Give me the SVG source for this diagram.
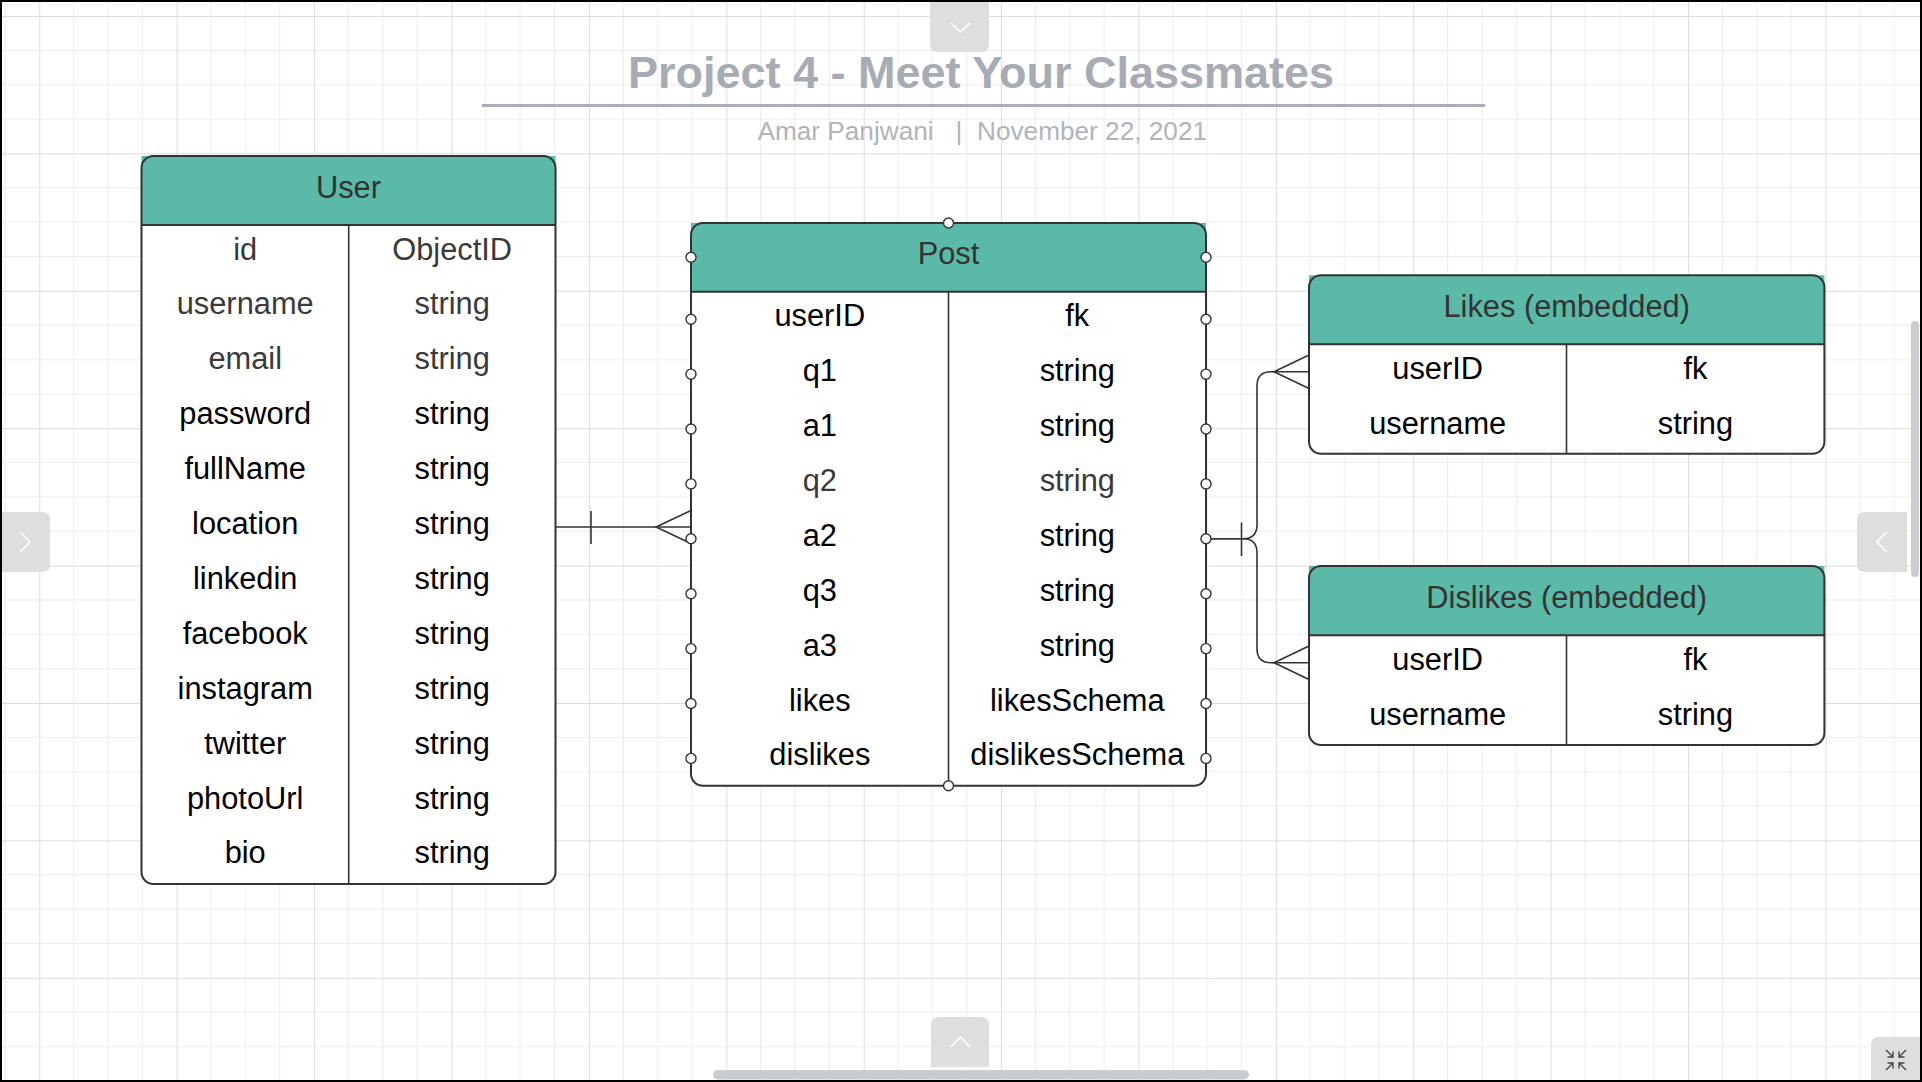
<svg xmlns="http://www.w3.org/2000/svg" width="1922" height="1082" viewBox="0 0 1922 1082">
<defs>
<pattern id="grid" patternUnits="userSpaceOnUse" x="39.3" y="16" width="137.4" height="137.4">
<path d="M34.35,0V137.4M68.7,0V137.4M103.05,0V137.4M0,34.35H137.4M0,68.7H137.4M0,103.05H137.4" stroke="#ececec" stroke-width="1" fill="none"/>
<path d="M0.5,0V137.4M0,0.5H137.4" stroke="#dcdcdc" stroke-width="1" fill="none"/>
</pattern>
</defs>
<style>
.bg{fill:#fff}
.body{fill:#fff}
.hdr{fill:#5bb9a7}
.frame{fill:none;stroke:#333;stroke-width:2}
.sep{stroke:#333;stroke-width:2;fill:none}
.div{stroke:#333;stroke-width:1.6;fill:none}
text{font-family:"Liberation Sans",Arial,sans-serif}
.ht{font-size:30.8px;fill:#333;text-anchor:middle}
.t{font-size:30.8px;fill:#000;text-anchor:middle}
.g{fill:#3a3a3a}
.handle{fill:#fff;stroke:#333;stroke-width:1.4}
.conn path{fill:none;stroke:#333;stroke-width:1.6}
.ui{fill:#dedede}
.chev{fill:none;stroke:#fff;stroke-width:1.6}
.sb{fill:#c9ccd1}
</style>
<rect class="bg" x="0" y="0" width="1922" height="1082"/>
<rect x="0" y="0" width="1922" height="1082" fill="url(#grid)"/>

<g id="title">
<text x="981" y="88" font-size="45" font-weight="bold" fill="#a7abb4" text-anchor="middle">Project 4 - Meet Your Classmates</text>
<rect x="482" y="104" width="1003" height="3" fill="#a9aeb6"/>
<text y="139.5" font-size="26.2" fill="#b1b4ba"><tspan x="757.5">Amar Panjwani</tspan><tspan x="955.5">|</tspan><tspan x="977">November 22, 2021</tspan></text>
</g>

<g id="user">
<rect class="body" x="141.5" y="156" width="414" height="728" rx="12"/>
<rect class="hdr" x="141.5" y="156" width="414" height="69"/>
<rect class="frame" x="141.5" y="156" width="414" height="728" rx="12"/>
<path class="sep" d="M141.5,225H555.5"/>
<path class="div" d="M348.7,225V884"/>
<text class="ht" x="348.5" y="197.5">User</text>
<text class="t g" x="245.2" y="259.5">id</text><text class="t g" x="452.2" y="259.5">ObjectID</text>
<text class="t g" x="245.2" y="314.4">username</text><text class="t g" x="452.2" y="314.4">string</text>
<text class="t g" x="245.2" y="369.3">email</text><text class="t g" x="452.2" y="369.3">string</text>
<text class="t" x="245.2" y="424.2">password</text><text class="t" x="452.2" y="424.2">string</text>
<text class="t" x="245.2" y="479.1">fullName</text><text class="t" x="452.2" y="479.1">string</text>
<text class="t" x="245.2" y="534">location</text><text class="t" x="452.2" y="534">string</text>
<text class="t" x="245.2" y="588.9">linkedin</text><text class="t" x="452.2" y="588.9">string</text>
<text class="t" x="245.2" y="643.8">facebook</text><text class="t" x="452.2" y="643.8">string</text>
<text class="t" x="245.2" y="698.7">instagram</text><text class="t" x="452.2" y="698.7">string</text>
<text class="t" x="245.2" y="753.6">twitter</text><text class="t" x="452.2" y="753.6">string</text>
<text class="t" x="245.2" y="808.5">photoUrl</text><text class="t" x="452.2" y="808.5">string</text>
<text class="t" x="245.2" y="863.4">bio</text><text class="t" x="452.2" y="863.4">string</text>
</g>

<g id="post">
<rect class="body" x="691" y="223" width="515" height="562.8" rx="12"/>
<rect class="hdr" x="691" y="223" width="515" height="68.7"/>
<rect class="frame" x="691" y="223" width="515" height="562.8" rx="12"/>
<path class="sep" d="M691,291.7H1206"/>
<path class="div" d="M948.5,291.7V785.8"/>
<text class="ht" x="948.5" y="264.4">Post</text>
<text class="t" x="819.8" y="326.2">userID</text><text class="t" x="1077.3" y="326.2">fk</text>
<text class="t" x="819.8" y="381.1">q1</text><text class="t" x="1077.3" y="381.1">string</text>
<text class="t" x="819.8" y="436">a1</text><text class="t" x="1077.3" y="436">string</text>
<text class="t g" x="819.8" y="490.9">q2</text><text class="t g" x="1077.3" y="490.9">string</text>
<text class="t" x="819.8" y="545.8">a2</text><text class="t" x="1077.3" y="545.8">string</text>
<text class="t" x="819.8" y="600.7">q3</text><text class="t" x="1077.3" y="600.7">string</text>
<text class="t" x="819.8" y="655.6">a3</text><text class="t" x="1077.3" y="655.6">string</text>
<text class="t" x="819.8" y="710.5">likes</text><text class="t" x="1077.3" y="710.5">likesSchema</text>
<text class="t" x="819.8" y="765.4">dislikes</text><text class="t" x="1077.3" y="765.4">dislikesSchema</text>
</g>

<g id="likes">
<rect class="body" x="1309" y="275.3" width="515.4" height="178.4" rx="12"/>
<rect class="hdr" x="1309" y="275.3" width="515.4" height="69"/>
<rect class="frame" x="1309" y="275.3" width="515.4" height="178.4" rx="12"/>
<path class="sep" d="M1309,344.3H1824.4"/>
<path class="div" d="M1566.5,344.3V453.7"/>
<text class="ht" x="1566.7" y="316.8">Likes (embedded)</text>
<text class="t" x="1437.7" y="378.8">userID</text><text class="t" x="1695.4" y="378.8">fk</text>
<text class="t" x="1437.7" y="433.7">username</text><text class="t" x="1695.4" y="433.7">string</text>
</g>

<g id="dislikes">
<rect class="body" x="1309" y="566" width="515.4" height="179" rx="12"/>
<rect class="hdr" x="1309" y="566" width="515.4" height="69.3"/>
<rect class="frame" x="1309" y="566" width="515.4" height="179" rx="12"/>
<path class="sep" d="M1309,635.3H1824.4"/>
<path class="div" d="M1566.5,635.3V745"/>
<text class="ht" x="1566.7" y="607.7">Dislikes (embedded)</text>
<text class="t" x="1437.7" y="669.8">userID</text><text class="t" x="1695.4" y="669.8">fk</text>
<text class="t" x="1437.7" y="724.7">username</text><text class="t" x="1695.4" y="724.7">string</text>
</g>

<g id="connectors" class="conn">
<path d="M555.5,527H691"/>
<path d="M591,511V544"/>
<path d="M691,510.5L656,527L691,543.5"/>
<path d="M1206,538.8H1243Q1257,538.8 1257,524.8V386Q1257,371.8 1271,371.8H1309"/>
<path d="M1206,538.8H1243Q1257,538.8 1257,552.8V648.8Q1257,662.8 1271,662.8H1309"/>
<path d="M1241.5,522.5V556"/>
<path d="M1309,355L1274,371.8L1309,388.5"/>
<path d="M1309,646L1274,662.8L1309,679.5"/>
</g>

<g id="post-handles">
<circle class="handle" cx="948.5" cy="223" r="5"/>
<circle class="handle" cx="948.5" cy="785.8" r="5"/>
<circle class="handle" cx="691" cy="257.3" r="5"/><circle class="handle" cx="1206" cy="257.3" r="5"/>
<circle class="handle" cx="691" cy="319.2" r="5"/><circle class="handle" cx="1206" cy="319.2" r="5"/>
<circle class="handle" cx="691" cy="374.1" r="5"/><circle class="handle" cx="1206" cy="374.1" r="5"/>
<circle class="handle" cx="691" cy="429" r="5"/><circle class="handle" cx="1206" cy="429" r="5"/>
<circle class="handle" cx="691" cy="483.9" r="5"/><circle class="handle" cx="1206" cy="483.9" r="5"/>
<circle class="handle" cx="691" cy="538.8" r="5"/><circle class="handle" cx="1206" cy="538.8" r="5"/>
<circle class="handle" cx="691" cy="593.7" r="5"/><circle class="handle" cx="1206" cy="593.7" r="5"/>
<circle class="handle" cx="691" cy="648.6" r="5"/><circle class="handle" cx="1206" cy="648.6" r="5"/>
<circle class="handle" cx="691" cy="703.5" r="5"/><circle class="handle" cx="1206" cy="703.5" r="5"/>
<circle class="handle" cx="691" cy="758.4" r="5"/><circle class="handle" cx="1206" cy="758.4" r="5"/>
</g>

<g id="viewer-ui">
<path class="ui" d="M930,0H989V44Q989,52 981,52H938Q930,52 930,44Z"/>
<path class="chev" d="M951,23L960.5,32L970,23"/>
<path class="ui" d="M931,1067V1025Q931,1017 939,1017H981Q989,1017 989,1025V1067Z"/>
<path class="chev" d="M951,1047L960.5,1037L970,1047"/>
<path class="ui" d="M0,512H42Q50,512 50,520V564Q50,572 42,572H0Z"/>
<path class="chev" d="M20,532L30,542L20,552"/>
<path class="ui" d="M1907,512H1865Q1857,512 1857,520V564Q1857,572 1865,572H1907Z"/>
<path class="chev" d="M1887,532L1877,542L1887,552"/>
<rect class="sb" x="1911" y="321" width="8" height="256" rx="4"/>
<rect class="sb" x="713" y="1070" width="536" height="9.5" rx="4.7"/>
<path class="ui" d="M1922,1037H1879Q1871,1037 1871,1045V1082H1922Z"/>
<g fill="none" stroke="#444" stroke-width="1.4">
<path d="M1886,1050L1893,1057M1893,1051.5V1057H1887.5"/>
<path d="M1906,1050L1899,1057M1899,1051.5V1057H1904.5"/>
<path d="M1886,1070L1893,1063M1893,1068.5V1063H1887.5"/>
<path d="M1906,1070L1899,1063M1899,1068.5V1063H1904.5"/>
</g>
</g>
<rect x="1" y="1" width="1920" height="1080" fill="none" stroke="#000" stroke-width="2"/>
</svg>
